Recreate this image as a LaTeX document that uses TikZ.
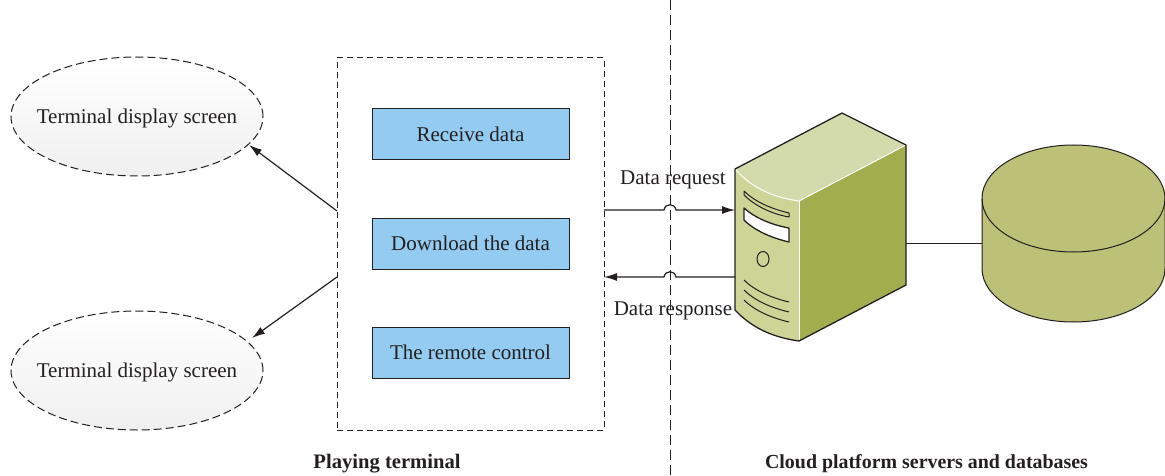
\documentclass[tikz,border=0pt]{standalone}
\usepackage{fontspec}
\setmainfont{Liberation Serif}
\usetikzlibrary{shapes.geometric,arrows.meta,shadings}
\definecolor{inkc}{HTML}{231F20}
\definecolor{bluebox}{HTML}{94CBF1}
\definecolor{topface}{HTML}{D3DAAB}
\definecolor{frontface}{HTML}{CDD596}
\definecolor{sideface}{HTML}{A2AD4E}
\definecolor{dbface}{HTML}{BCC177}
\tikzset{
  x=1pt,y=-1pt,
  lbl/.style={font=\fontsize{21}{25}\selectfont,text=inkc,inner sep=0pt},
  boldlbl/.style={font=\fontsize{20.6}{25}\selectfont\bfseries,text=inkc,inner sep=0pt},
  boldlblb/.style={font=\fontsize{19.9}{25}\selectfont\bfseries,text=inkc,inner sep=0pt},
  screen/.style={ellipse,draw=inkc,line width=1pt,dash pattern=on 8pt off 4pt,top color=white,bottom color=black!6,minimum width=252pt,minimum height=119pt,inner sep=0pt},
  funcbox/.style={rectangle,draw=inkc,line width=1pt,fill=bluebox,minimum width=197pt,minimum height=51pt,inner sep=0pt,font=\fontsize{21}{25}\selectfont,text=inkc},
  dashbox/.style={rectangle,draw=inkc,line width=1pt,dash pattern=on 6pt off 4pt,minimum width=267pt,minimum height=372pt,inner sep=0pt},
  divider/.style={draw=inkc,line width=1pt,dash pattern=on 10pt off 5pt},
  conn/.style={draw=inkc,line width=1.2pt},
  thinconn/.style={draw=inkc,line width=0.9pt},
  arrowc/.style={conn,-{Latex[length=13pt,width=8pt]}},
  edge/.style={draw=inkc,line width=1.3pt,line join=round},
}
\begin{document}
\begin{tikzpicture}
\useasboundingbox (0,0) rectangle (1165,476);
\node[dashbox] (term) at (470.5,244) {};
\node[funcbox] (recv) at (470.5,134.5) {Receive data};
\node[funcbox] (down) at (470.5,243.5) {Download the data};
\node[funcbox] (ctrl) at (470.5,352.5) {The remote control};
\node[screen] (scrA) at (137,116.5) {};
\node[screen] (scrB) at (137,370.5) {};
\node[lbl] (txtA) at (137,118.5) {Terminal display screen};
\node[lbl] (txtB) at (137,372.5) {Terminal display screen};
\coordinate (divT) at (670,0);
\coordinate (divB) at (670,476);
\draw[divider] (divT) -- (divB);
% connectors from terminal to screens
\coordinate (tA) at (337,211);
\coordinate (tB) at (337,277);
\coordinate (hA) at (249,145);
\coordinate (hB) at (252,338);
\draw[arrowc] (tA) -- (hA);
\draw[arrowc] (tB) -- (hB);
% server
\coordinate (srvL) at (735,169);
\coordinate (srvB) at (842,113);
\coordinate (srvR) at (906,145);
\coordinate (srvM) at (799,201);
\coordinate (srvBM) at (799,341);
\coordinate (srvBR) at (906,285);
\coordinate (srvBL) at (735,310);
\fill[topface] (srvL) -- (srvB) -- (srvR) -- (srvM) .. controls (770,197) and (750,186) .. (srvL) -- cycle;
\fill[frontface] (srvL) .. controls (750,186) and (770,197) .. (srvM) -- (srvBM) .. controls (770,337) and (750,326) .. (srvBL) -- cycle;
\fill[sideface] (srvM) -- (srvR) -- (srvBR) -- (srvBM) -- cycle;
\draw[white,line width=1pt] (srvL) .. controls (750,186) and (770,197) .. (srvM) -- (srvR);
\draw[white,line width=1pt] (srvM) -- (srvBM);
\draw[edge] (srvL) -- (srvB) -- (srvR) -- (srvBR) -- (srvBM) .. controls (770,337) and (750,326) .. (srvBL) -- cycle;
\draw[edge,line width=1pt,fill=frontface] (744,191) .. controls (755,202) and (772,209) .. (789,213) -- (789,217) .. controls (772,214) and (755,206) .. (744,195) -- cycle;
\draw[edge,fill=white] (744,208) .. controls (755,218) and (772,225) .. (789,228) -- (789,242) .. controls (772,238) and (755,231) .. (744,220) -- cycle;
\draw[edge,line width=1pt] (763,259) ellipse (6pt and 7.5pt);
\draw[edge,line width=1pt] (744,280) .. controls (755,291) and (772,298) .. (789,302);
\draw[edge,line width=1pt] (744,290) .. controls (755,301) and (772,308) .. (789,312);
\draw[edge,line width=1pt] (744,300) .. controls (755,311) and (772,318) .. (789,322);
% data arrows with hop over the divider
\coordinate (reqS) at (604,210);
\coordinate (reqE) at (735,210);
\coordinate (resS) at (735,277);
\coordinate (resE) at (604,277);
\draw[arrowc] (reqS) -- (664,210) .. controls (665,203) and (675,203) .. (676,210) -- (reqE);
\draw[arrowc] (resS) -- (676,277) .. controls (675,270) and (665,270) .. (664,277) -- (resE);
\node[lbl] (lreq) at (673,180) {Data request};
\node[lbl] (lres) at (673,311) {Data response};
% database
\coordinate (srvOut) at (906,243);
\coordinate (dbIn) at (982,243);
\draw[thinconn] (srvOut) -- (dbIn);
\draw[edge,line width=1pt,fill=dbface] (982,198.5) -- (982,268.5) arc[start angle=180,end angle=360,x radius=91.5,y radius=-53.5] -- (1165,198.5) arc[start angle=0,end angle=180,x radius=91.5,y radius=-53.5] -- cycle;
\draw[edge,line width=1pt] (982,198.5) arc[start angle=180,end angle=360,x radius=91.5,y radius=-53.5];
\node[boldlbl] (capA) at (387,464) {Playing terminal};
\node[boldlblb] (capB) at (926.5,464) {Cloud platform servers and databases};
\end{tikzpicture}
\end{document}
